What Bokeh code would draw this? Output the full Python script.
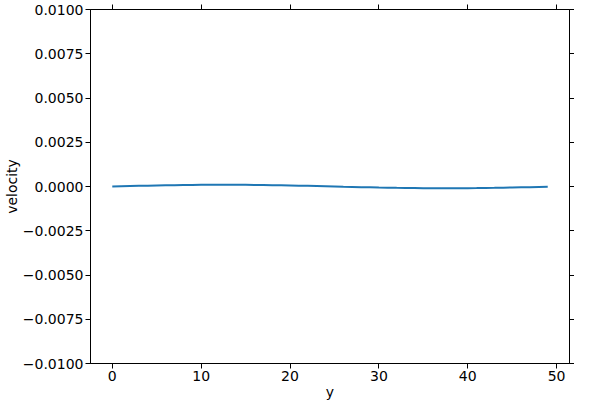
from bokeh.plotting import figure
from bokeh.models import LinearAxis, FixedTicker, Range1d, CustomJSTickFormatter
from bokeh.embed import file_html
from bokeh.resources import INLINE

# data
y_pos = list(range(50))
velocity = [0.0, 1.3e-5, 2.5e-5, 3.7e-5, 4.8e-5, 5.9e-5, 6.8e-5, 7.7e-5, 8.4e-5, 9.0e-5,
            9.5e-5, 9.8e-5, 1.0e-4, 1.0e-4, 9.8e-5, 9.5e-5, 9.0e-5, 8.4e-5, 7.7e-5, 6.8e-5,
            5.9e-5, 4.8e-5, 3.7e-5, 2.5e-5, 1.3e-5, 0.0, -1.3e-5, -2.5e-5, -3.7e-5, -4.8e-5,
            -5.9e-5, -6.8e-5, -7.7e-5, -8.4e-5, -9.0e-5, -9.5e-5, -9.8e-5, -1.0e-4, -1.0e-4, -9.8e-5,
            -9.5e-5, -9.0e-5, -8.4e-5, -7.7e-5, -6.8e-5, -5.9e-5, -4.8e-5, -3.7e-5, -2.5e-5, -1.3e-5]
x_ticks = [0, 10, 20, 30, 40, 50]
y_ticks = [-0.01, -0.0075, -0.005, -0.0025, 0.0, 0.0025, 0.005, 0.0075, 0.01]
y_tick_labels = ["\u22120.0100", "\u22120.0075", "\u22120.0050", "\u22120.0025", "0.0000",
                 "0.0025", "0.0050", "0.0075", "0.0100"]

FONT = "DejaVu Sans"
FS = "14px"

p = figure(width=574, height=402, output_backend="svg", toolbar_location=None,
           x_range=Range1d(-2.45, 51.45), y_range=Range1d(-0.01, 0.01),
           x_axis_label="y", y_axis_label="velocity",
           min_border_left=85, min_border_right=0, min_border_top=9, min_border_bottom=0)

p.line(y_pos, velocity, line_color="#1f77b4", line_width=2)

p.xgrid.visible = False
p.ygrid.visible = False
p.outline_line_color = "black"
p.outline_line_width = 1

top = LinearAxis()
right = LinearAxis()
p.add_layout(top, "above")
p.add_layout(right, "right")

for ax in p.xaxis:
    ax.ticker = FixedTicker(ticks=x_ticks)
for ax in p.yaxis:
    ax.ticker = FixedTicker(ticks=y_ticks)
    ax.major_label_overrides = {t: l for t, l in zip(y_ticks, y_tick_labels)}

for ax in p.axis:
    ax.minor_tick_line_color = None
    ax.major_tick_out = 5
    ax.major_tick_in = 0
    ax.axis_line_color = "black"
    ax.major_tick_line_color = "black"
    ax.major_label_text_font = FONT
    ax.major_label_text_font_size = FS
    ax.major_label_text_color = "black"
    ax.axis_label_text_font = FONT
    ax.axis_label_text_font_size = FS
    ax.axis_label_text_font_style = "normal"
    ax.axis_label_text_color = "black"
    ax.major_label_standoff = 2
    ax.axis_label_standoff = 0

for ax in (top, right):
    ax.formatter = CustomJSTickFormatter(code="return ''")
    ax.major_label_overrides = {}
    ax.major_label_standoff = 0
    ax.axis_label = None

open("out.html", "w").write(file_html(p, INLINE))
